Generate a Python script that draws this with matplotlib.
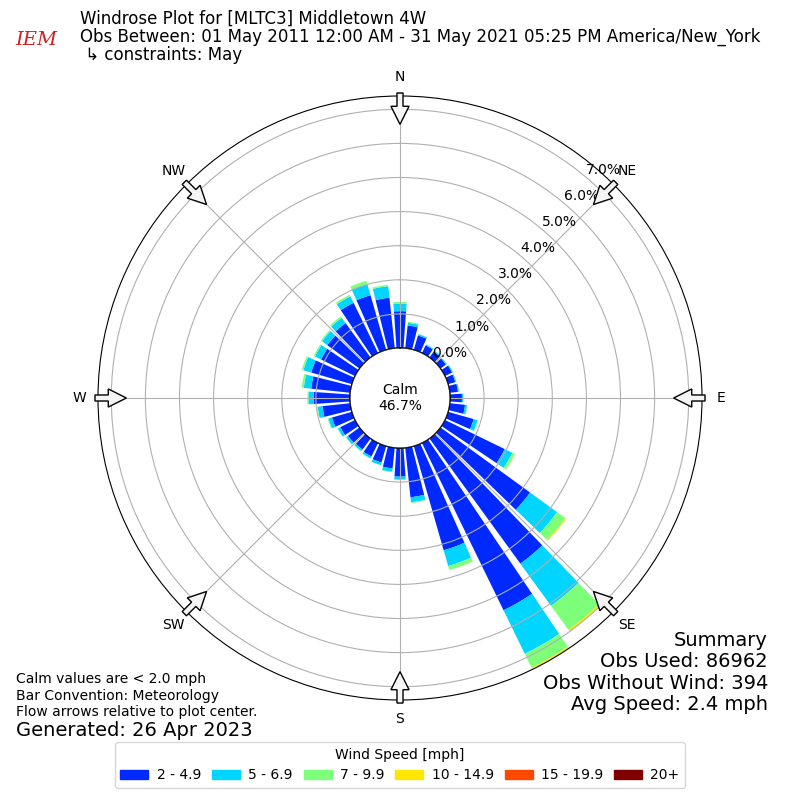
import matplotlib
matplotlib.use("Agg")
import matplotlib.pyplot as plt
import matplotlib.patches as mpatches
import numpy as np

# direction bins (deg, meteorological) and percent frequency per speed class
directions = np.arange(0, 360, 10)
speed_labels = ["2 - 4.9", "5 - 6.9", "7 - 9.9", "10 - 14.9", "15 - 19.9", "20+"]
spd_2_5 = [1.08, 0.67, 0.44, 0.25, 0.22, 0.20, 0.23, 0.22, 0.24, 0.35, 0.45, 0.78,
           1.95, 3.25, 4.54, 5.46, 3.18, 1.46, 0.84, 0.61, 0.50, 0.44, 0.40, 0.42,
           0.48, 0.61, 0.82, 1.07, 1.15, 1.24, 1.11, 1.17, 1.25, 1.64, 1.67, 1.49]
spd_5_7 = [0.22, 0.08, 0.04, 0.03, 0.03, 0.03, 0.03, 0.03, 0.03, 0.04, 0.06, 0.12,
           0.25, 0.98, 1.53, 1.42, 0.48, 0.15, 0.09, 0.10, 0.08, 0.06, 0.06, 0.07,
           0.08, 0.11, 0.14, 0.15, 0.22, 0.24, 0.20, 0.19, 0.19, 0.21, 0.34, 0.34]
spd_7_10 = [0.05, 0.03, 0.01, 0.005, 0.005, 0.005, 0.005, 0.005, 0.005, 0.005, 0.01, 0.02,
            0.08, 0.30, 0.87, 0.45, 0.12, 0.02, 0.01, 0.01, 0.01, 0.01, 0.01, 0.01,
            0.01, 0.02, 0.02, 0.03, 0.06, 0.05, 0.04, 0.04, 0.05, 0.05, 0.10, 0.04]
spd_10_15 = [0, 0, 0, 0, 0, 0, 0, 0, 0, 0, 0, 0,
             0.005, 0.03, 0.06, 0.04, 0, 0, 0, 0, 0, 0, 0, 0,
             0, 0, 0, 0, 0, 0, 0, 0, 0, 0, 0, 0]
spd_15_20 = [0] * 36
spd_20_up = [0] * 36
calm_pct = 46.7
rticks = [0, 1, 2, 3, 4, 5, 6, 7]
compass = ["N", "NE", "E", "SE", "S", "SW", "W", "NW"]

series = [spd_2_5, spd_5_7, spd_7_10, spd_10_15, spd_15_20, spd_20_up]
colors = plt.cm.jet(np.linspace(0, 1, 7)[1:])

fig = plt.figure(figsize=(8, 8), dpi=100)
ax = fig.add_axes([0.1225, 0.125, 0.755, 0.755], projection="polar")
ax.set_theta_zero_location("N")
ax.set_theta_direction(-1)
ax.set_rorigin(-1.466)
ax.set_ylim(0, 7.39)

theta = np.radians(directions)
bottom = np.zeros(len(directions))
handles = []
for vals, col, lab in zip(series, colors, speed_labels):
    vals = np.array(vals, dtype=float)
    ax.bar(theta, vals, width=np.radians(8), bottom=bottom, color=col,
           edgecolor="none", linewidth=0)
    bottom += vals
    handles.append(mpatches.Patch(color=col, label=lab))

ax.set_thetagrids(np.arange(0, 360, 45), compass, fontsize=10)
ax.tick_params(axis="x", pad=3)
ax.set_rgrids(rticks, labels=[""] * len(rticks))
for r in rticks:
    ax.text(np.radians(40), r, f"{r:.1f}%", ha="left", va="bottom", fontsize=10, zorder=6)

# calm circle in the middle
calm = mpatches.Circle((0.5, 0.5), 50 / 604, transform=ax.transAxes,
                       facecolor="white", edgecolor="black", lw=1, zorder=4)
ax.add_patch(calm)
ax.text(0.5, 0.5, f"Calm\n{calm_pct:.1f}%", transform=ax.transAxes,
        ha="center", va="center", fontsize=10, zorder=5)

# flow arrows at the rim
for ang in np.arange(0, 360, 45):
    a = np.radians(ang)
    sx, sy = np.sin(a), np.cos(a)
    arr = mpatches.FancyArrow(0.5 + 0.505 * sx, 0.5 + 0.505 * sy,
                              -0.052 * sx, -0.052 * sy, width=0.01,
                              head_width=0.03, head_length=0.03,
                              length_includes_head=True, transform=ax.transAxes,
                              facecolor="#f4f4f4", edgecolor="black", lw=1,
                              clip_on=False, zorder=7)
    ax.add_patch(arr)

# header
fig.text(0.1, 0.976, "Windrose Plot for [MLTC3] Middletown 4W", fontsize=12, va="center")
fig.text(0.1, 0.954, "Obs Between: 01 May 2011 12:00 AM - 31 May 2021 05:25 PM America/New_York",
         fontsize=12, va="center")
fig.text(0.1, 0.931, " \u21b3 constraints: May", fontsize=12, va="center")
fig.text(0.045, 0.950, "IEM", fontsize=14, color="#d02020", style="italic",
         family="DejaVu Serif", ha="center", va="center")

# footer notes
fig.text(0.02, 0.151, "Calm values are < 2.0 mph", fontsize=10, va="center")
fig.text(0.02, 0.130, "Bar Convention: Meteorology", fontsize=10, va="center")
fig.text(0.02, 0.110, "Flow arrows relative to plot center.", fontsize=10, va="center")
fig.text(0.02, 0.087, "Generated: 26 Apr 2023", fontsize=14, va="center")

fig.text(0.96, 0.200, "Summary", fontsize=14, ha="right", va="center")
fig.text(0.96, 0.173, "Obs Used: 86962", fontsize=14, ha="right", va="center")
fig.text(0.96, 0.146, "Obs Without Wind: 394", fontsize=14, ha="right", va="center")
fig.text(0.96, 0.119, "Avg Speed: 2.4 mph", fontsize=14, ha="right", va="center")

fig.legend(handles=handles, loc="lower center", bbox_to_anchor=(0.5, 0.015),
           ncol=6, fontsize=10, title="Wind Speed [mph]", title_fontsize=10,
           borderaxespad=0, handlelength=2.0, handletextpad=0.6, columnspacing=0.8)

fig.savefig("out.png", dpi=100)
